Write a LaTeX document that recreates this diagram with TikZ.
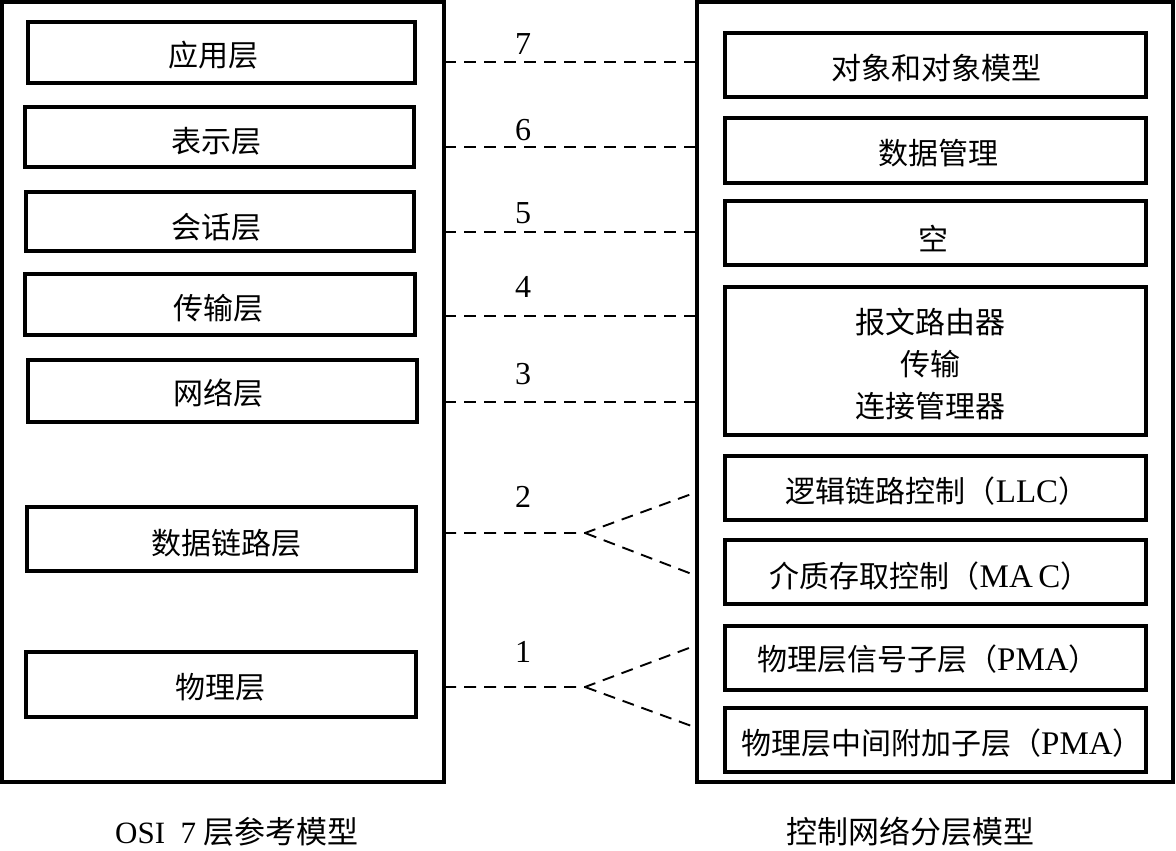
\documentclass[tikz,border=0pt]{standalone}
\usepackage{fontspec}
\setmainfont{Liberation Serif}
\newfontfamily\cjk{Noto Sans CJK SC}
\newcommand{\lat}[1]{{\rmfamily\fontsize{33}{33}\selectfont #1}}
\begin{document}
\begin{tikzpicture}[x=1pt,y=-1pt,
  outerbox/.style={draw, line width=3.2pt, inner sep=0pt},
  layerbox/.style={draw, line width=3.2pt, inner sep=0pt, align=center,
    font=\fontsize{30}{42}\selectfont\cjk},
  layertext/.style={inner sep=0pt, align=center, font=\fontsize{30}{42}\selectfont\cjk},
  link/.style={line width=1.9pt, dash pattern=on 12pt off 8pt},
  num/.style={font=\fontsize{32}{32}\selectfont, inner sep=0pt},
  caption/.style={font=\fontsize{31}{32}\selectfont, inner sep=0pt}]
\useasboundingbox (0,0) rectangle (1176,851);
% outer frames
\node[outerbox, minimum width=442pt, minimum height=780pt] (L) at (223,392) {};
\node[outerbox, minimum width=476pt, minimum height=780pt] (R) at (935,392) {};
% left layers
\node[layerbox, minimum width=387pt, minimum height=61pt] (app)  at (221.5,52.5) {};
\node[layerbox, minimum width=389pt, minimum height=60pt] (pres) at (219.5,137) {};
\node[layerbox, minimum width=388pt, minimum height=59pt] (sess) at (220,221.5) {};
\node[layerbox, minimum width=390pt, minimum height=61pt] (trans) at (220,304.5) {};
\node[layerbox, minimum width=389pt, minimum height=62pt] (net)  at (222.5,391) {};
\node[layerbox, minimum width=389pt, minimum height=64pt] (dl)   at (221.5,539) {};
\node[layerbox, minimum width=390pt, minimum height=65pt] (phy)  at (221,684.5) {};
\node[layertext] (tapp)  at (213,55) {应用层};
\node[layertext] (tpres) at (216,141) {表示层};
\node[layertext] (tsess) at (216,227) {会话层};
\node[layertext] (ttrans) at (218,308) {传输层};
\node[layertext] (tnet)  at (218,393) {网络层};
\node[layertext] (tdl)   at (226,543) {数据链路层};
\node[layertext] (tphy)  at (220,687) {物理层};
% right layers
\node[layerbox, minimum width=421pt, minimum height=64pt] (obj)  at (935.5,65) {};
\node[layerbox, minimum width=421pt, minimum height=65pt] (dm)   at (935.5,150.5) {};
\node[layerbox, minimum width=421pt, minimum height=64pt] (emp)  at (935.5,233) {};
\node[layerbox, minimum width=421pt, minimum height=148pt] (msg) at (935.5,361) {};
\node[layerbox, minimum width=421pt, minimum height=64pt] (llc)  at (935.5,488) {};
\node[layerbox, minimum width=421pt, minimum height=64pt] (mac)  at (935.5,572) {};
\node[layerbox, minimum width=421pt, minimum height=64pt] (pma1) at (935.5,658) {};
\node[layerbox, minimum width=421pt, minimum height=64pt] (pma2) at (935.5,740) {};
\node[layertext] (tobj)  at (936,68) {对象和对象模型};
\node[layertext] (tdm)   at (938,153) {数据管理};
\node[layertext] (temp)  at (933,238) {空};
\node[layertext] (tmsg)  at (930,364) {报文路由器\\传输\\连接管理器};
\node[layertext] (tllc)  at (937,491) {逻辑链路控制（\lat{LLC}）};
\node[layertext] (tmac)  at (930,576) {介质存取控制（\lat{MA\,C}）};
\node[layertext] (tpma1) at (928,659) {物理层信号子层（\lat{PMA}）};
\node[layertext] (tpma2) at (942,743) {物理层中间附加子层（\lat{PMA}）};
% connector ends
\foreach \n/\y in {7/62,6/147,5/232,4/316,3/402,2/533,1/687}{
  \coordinate (a\n) at (444,\y);
}
\foreach \n/\y in {7/62,6/147,5/232,4/316,3/402}{
  \coordinate (b\n) at (697,\y);
}
\coordinate (k2) at (585,533);
\coordinate (b2u) at (697,492);
\coordinate (b2d) at (697,576);
\coordinate (k1) at (585,687);
\coordinate (b1u) at (697,645);
\coordinate (b1d) at (697,728);
% connectors
\foreach \n in {7,6,5,4,3}{ \draw[link] (a\n) -- (b\n); }
\draw[link] (a2) -- (k2) -- (b2u);
\draw[link] (k2) -- (b2d);
\draw[link] (a1) -- (k1) -- (b1u);
\draw[link] (k1) -- (b1d);
% numbers
\node[num] (n7) at (523,44) {7};
\node[num] (n6) at (523,130) {6};
\node[num] (n5) at (523,213) {5};
\node[num] (n4) at (523,287) {4};
\node[num] (n3) at (523,374) {3};
\node[num] (n2) at (523,497) {2};
\node[num] (n1) at (523,652) {1};
% captions
\node[caption] (capL) at (237,832) {OSI\ \ 7\ {\cjk 层参考模型}};
\node[caption] (capR) at (910,832) {\cjk 控制网络分层模型};
\end{tikzpicture}
\end{document}
